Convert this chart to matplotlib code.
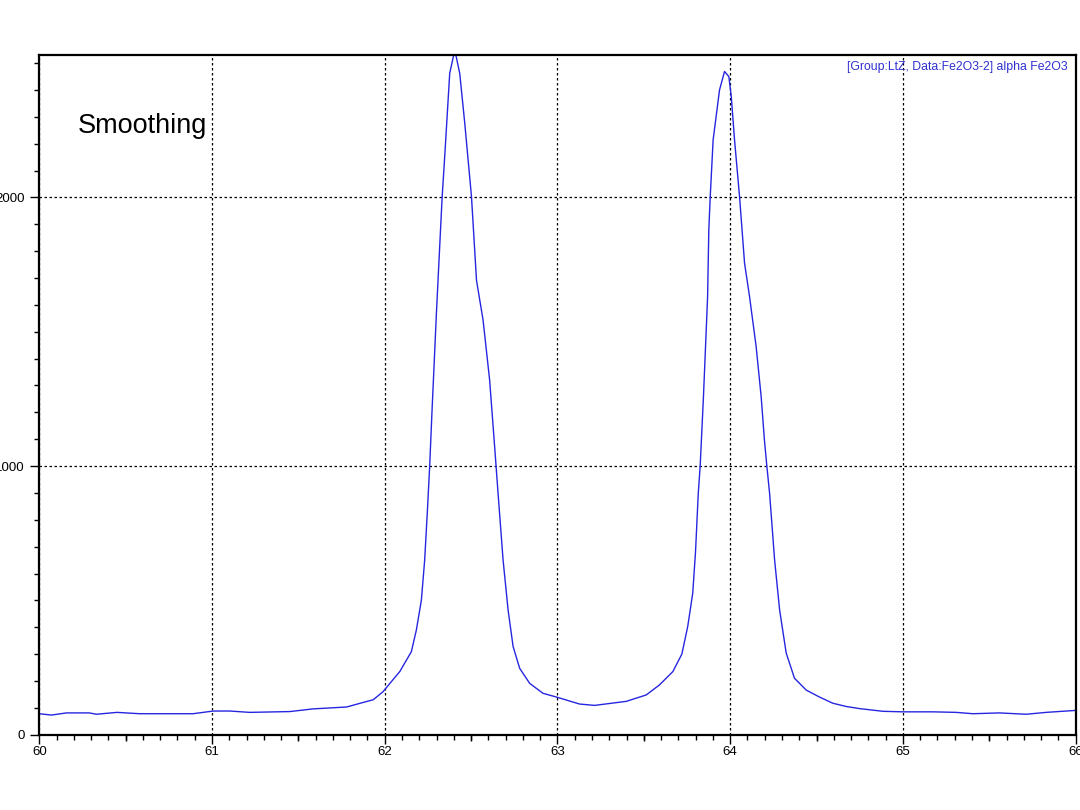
import numpy as np
import matplotlib.pyplot as plt
from matplotlib.ticker import MultipleLocator, FixedLocator

# 2theta (deg) 와 강도 — 그림에서 읽은 값
two_theta = [60.0, 60.07, 60.157, 60.29, 60.33, 60.45, 60.58, 60.795, 60.89, 61.007,
             61.103, 61.218, 61.45, 61.585, 61.779, 61.875, 61.933, 61.99, 62.048, 62.087,
             62.154, 62.183, 62.212, 62.231, 62.247, 62.26, 62.273, 62.299, 62.318, 62.332,
             62.347, 62.376, 62.399, 62.41, 62.434, 62.463, 62.502, 62.531, 62.569, 62.607,
             62.636, 62.656, 62.685, 62.714, 62.743, 62.781, 62.839, 62.916, 62.994, 63.128,
             63.215, 63.398, 63.514, 63.59, 63.668, 63.72, 63.754, 63.783, 63.799, 63.815,
             63.826, 63.845, 63.869, 63.876, 63.884, 63.901, 63.938, 63.967, 63.992, 64.006,
             64.025, 64.054, 64.083, 64.112, 64.15, 64.179, 64.198, 64.212, 64.228, 64.257,
             64.286, 64.324, 64.372, 64.44, 64.517, 64.594, 64.671, 64.749, 64.884, 64.999,
             65.173, 65.308, 65.405, 65.559, 65.713, 65.829, 65.993]
intensity = [78, 73, 81, 81, 76, 83, 78, 78, 78, 88,
             88, 83, 86, 96, 103, 120, 130, 160, 205, 235,
             309, 390, 501, 650, 836, 1000, 1197, 1569, 1817, 2000,
             2152, 2462, 2530, 2535, 2462, 2277, 2003, 1692, 1544, 1321,
             1073, 898, 650, 464, 328, 247, 191, 154, 140, 114,
             109, 124, 148, 185, 235, 300, 403, 527, 680, 898,
             1000, 1258, 1630, 1878, 2000, 2214, 2400, 2469, 2450, 2376,
             2214, 2003, 1755, 1630, 1445, 1259, 1097, 1000, 898, 650,
             464, 304, 210, 166, 140, 117, 105, 97, 87, 85,
             85, 83, 78, 81, 76, 83, 90]

x_ticks = [60, 61, 62, 63, 64, 65, 66]
y_ticks = [0, 1000, 2000]
half_ticks = [60.5, 61.5, 62.5, 63.5, 64.5, 65.5]

title_text = "Smoothing"
info_text = "[Group:LtZ, Data:Fe2O3-2] alpha Fe2O3"

plt.rcParams['font.family'] = ['Liberation Sans', 'DejaVu Sans']

fig = plt.figure(figsize=(10.8, 8.1), dpi=100)
ax = fig.add_axes([0.0364, 0.093, 0.9596, 0.839])

ax.plot(two_theta, intensity, color='#2626e0', linewidth=1.0)

ax.set_xlim(60, 66)
ax.set_ylim(0, 2530)

# 눈금 설정
ax.xaxis.set_major_locator(FixedLocator(x_ticks))
ax.xaxis.set_minor_locator(MultipleLocator(0.1))
ax.yaxis.set_major_locator(FixedLocator(y_ticks))
ax.yaxis.set_minor_locator(MultipleLocator(100))
ax.tick_params(which='major', direction='out', length=6.5, width=1, labelsize=9.5)
ax.tick_params(which='minor', direction='out', length=3.5, width=1)
ax.tick_params(axis='y', which='major', pad=4)
ax.tick_params(axis='x', which='major', pad=2)
ax.tick_params(top=False, right=False)

# 0.5 간격 중간 길이 눈금
sec = ax.secondary_xaxis('bottom')
sec.set_xticks(half_ticks)
sec.tick_params(direction='out', length=4.5, width=1, labelbottom=False)
sec.spines['bottom'].set_visible(False)

# 격자 (점선)
ax.grid(True, which='major', color='black', linestyle=(0, (2, 2)), linewidth=0.9)

for s in ax.spines.values():
    s.set_linewidth(1.6)
    s.set_color('black')

ax.text(0.0373, 0.885, title_text, transform=ax.transAxes, fontsize=19.5,
        va='baseline', ha='left')
ax.text(0.9925, 0.991, info_text, transform=ax.transAxes, fontsize=8.8,
        color='#3030d0', va='top', ha='right')

fig.savefig('out.png', dpi=100)
